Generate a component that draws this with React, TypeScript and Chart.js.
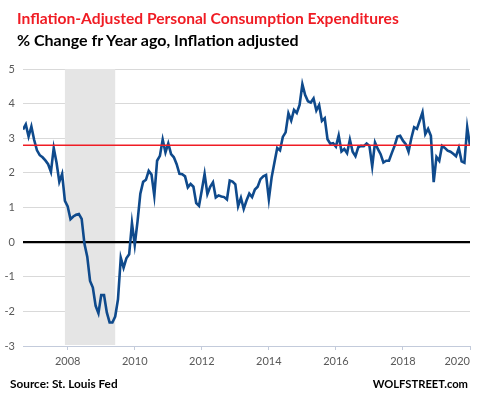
import React, { useEffect, useRef } from "react";
import { Chart, registerables } from "chart.js";

Chart.register(...registerables);

// ---- Data ----
const START_YEAR = 2006;
const START_MONTH = 9; // Sep 2006
const pceYoY: number[] = [
  // 2006 Sep-Dec
  3.25, 3.40, 3.05, 3.34,
  // 2007
  2.95, 2.65, 2.51, 2.45, 2.36, 2.25, 2.03, 2.72, 2.30, 1.74, 1.97, 1.19,
  // 2008
  1.03, 0.66, 0.74, 0.79, 0.81, 0.67, -0.05, -0.42, -1.12, -1.31, -1.84, -2.05,
  // 2009
  -1.53, -1.53, -2.03, -2.32, -2.32, -2.15, -1.65, -0.45, -0.74, -0.47, -0.35, 0.55,
  // 2010
  -0.08, 0.60, 1.40, 1.74, 1.80, 2.06, 1.95, 1.34, 2.35, 2.49, 2.96, 2.59,
  // 2011
  2.85, 2.54, 2.45, 2.25, 1.97, 1.96, 1.90, 1.58, 1.68, 1.60, 1.13, 1.05,
  // 2012
  1.50, 1.97, 1.39, 1.60, 1.73, 1.29, 1.35, 1.32, 1.30, 1.23, 1.78, 1.75,
  // 2013
  1.67, 1.04, 1.28, 0.96, 1.20, 1.40, 1.30, 1.52, 1.60, 1.82, 1.90, 1.94,
  // 2014
  1.24, 1.87, 2.30, 2.72, 2.65, 3.04, 3.17, 3.72, 3.51, 3.82, 3.73, 3.96,
  // 2015
  4.56, 4.25, 4.07, 4.03, 4.15, 3.80, 3.96, 3.50, 3.58, 2.97, 2.84, 2.86,
  // 2016
  2.76, 3.08, 2.62, 2.69, 2.57, 2.96, 2.61, 2.48, 2.74, 2.78, 2.77, 2.85,
  // 2017
  2.78, 2.19, 2.88, 2.69, 2.54, 2.30, 2.35, 2.35, 2.57, 2.78, 3.05, 3.07,
  // 2018
  2.93, 2.83, 2.61, 3.00, 3.32, 3.27, 3.51, 3.75, 3.12, 3.27, 3.07, 1.73,
  // 2019
  2.46, 2.35, 2.78, 2.72, 2.64, 2.61, 2.55, 2.48, 2.72, 2.33, 2.29, 3.32,
  // 2020 Jan
  2.78,
];
const yTicks = [-3, -2, -1, 0, 1, 2, 3, 4, 5];
const xTickYears = [2008, 2010, 2012, 2014, 2016, 2018, 2020];
const recessionStart = 2007 + 11 / 12; // Dec 2007
const recessionEnd = 2009 + 5 / 12; // Jun 2009
const referenceLevel = 2.8;
const zeroLevel = 0;

const monthDates = pceYoY.map((_, i) => START_YEAR + (START_MONTH - 1 + i) / 12);

const FONT = "Lato, 'Open Sans', sans-serif";

const overlayPlugin = {
  id: "overlays",
  beforeDatasetsDraw(chart: any) {
    const { ctx, chartArea, scales } = chart;
    const x = scales.x;
    const y = scales.y;
    ctx.save();
    const x0 = x.getPixelForValue(recessionStart);
    const x1 = x.getPixelForValue(recessionEnd);
    ctx.fillStyle = "#e5e5e5";
    ctx.fillRect(x0, chartArea.top, x1 - x0, chartArea.bottom - chartArea.top - 1);
    const yz = y.getPixelForValue(zeroLevel);
    ctx.strokeStyle = "#000000";
    ctx.lineWidth = 2.2;
    ctx.beginPath();
    ctx.moveTo(chartArea.left, yz);
    ctx.lineTo(chartArea.right, yz);
    ctx.stroke();
    ctx.restore();
  },
  afterDatasetsDraw(chart: any) {
    const { ctx, chartArea, scales } = chart;
    const yr = scales.y.getPixelForValue(referenceLevel);
    ctx.save();
    ctx.strokeStyle = "#f01c24";
    ctx.lineWidth = 1.5;
    ctx.beginPath();
    ctx.moveTo(chartArea.left, yr);
    ctx.lineTo(chartArea.right, yr);
    ctx.stroke();
    ctx.restore();
  },
};

export default function App() {
  const canvasRef = useRef<HTMLCanvasElement | null>(null);

  useEffect(() => {
    if (!canvasRef.current) return;
    const chart = new Chart(canvasRef.current, {
      type: "line",
      data: {
        datasets: [
          {
            label: "Real PCE % change YoY",
            data: pceYoY.map((v, i) => ({ x: monthDates[i], y: v })),
            borderColor: "#0f4a8c",
            borderWidth: 2.6,
            pointRadius: 0,
            tension: 0,
            fill: false,
          },
        ],
      },
      options: {
        responsive: false,
        animation: false,
        devicePixelRatio: 1,
        layout: { padding: { top: 69, right: 10, left: 0, bottom: 0 } },
        plugins: {
          legend: { display: false },
          tooltip: { enabled: false },
          title: { display: false },
        },
        scales: {
          x: {
            type: "linear",
            min: monthDates[0],
            max: 2020,
            afterBuildTicks: (s: any) => {
              s.ticks = [{ value: monthDates[0] }, ...xTickYears.map((v) => ({ value: v }))];
            },
            afterFit: (s: any) => {
              s.height = 52;
            },
            grid: {
              drawOnChartArea: false,
              drawTicks: true,
              tickLength: 4,
              color: (c: any) => (c.index === 0 ? "rgba(0,0,0,0)" : "#c3cbdb"),
            },
            border: { display: true, color: "#c3cbdb", width: 1 },
            ticks: {
              align: "inner",
              autoSkip: false,
              maxRotation: 0,
              padding: 5,
              color: "#595959",
              font: { family: FONT, size: 11 },
              callback: (v: any, i: number) => (i === 0 ? "" : String(Math.round(v))),
            },
          },
          y: {
            type: "linear",
            min: -3,
            max: 5,
            afterBuildTicks: (s: any) => {
              s.ticks = yTicks.map((v) => ({ value: v }));
            },
            afterFit: (s: any) => {
              s.width = 23;
            },
            grid: { color: "#d9d9d9", lineWidth: 1, drawTicks: false },
            border: { display: false },
            ticks: {
              padding: 8,
              color: "#595959",
              font: { family: FONT, size: 11 },
              callback: (v: any) => String(v),
            },
          },
        },
      },
      plugins: [overlayPlugin],
    });
    return () => chart.destroy();
  }, []);

  return (
    <div
      style={{
        position: "fixed",
        left: 0,
        top: 0,
        width: 480,
        height: 398,
        background: "#ffffff",
        fontFamily: FONT,
      }}
    >
      <canvas ref={canvasRef} width={480} height={398} style={{ position: "absolute", left: 0, top: 0 }} />
      <div
        style={{
          position: "absolute",
          left: 17,
          top: 8,
          fontSize: 15.6,
          lineHeight: "20px",
          fontWeight: 700,
          color: "#f01c24",
          whiteSpace: "nowrap",
        }}
      >
        Inflation-Adjusted Personal Consumption Expenditures
      </div>
      <div
        style={{
          position: "absolute",
          left: 17,
          top: 30,
          fontSize: 16,
          lineHeight: "20px",
          fontWeight: 700,
          color: "#000000",
          whiteSpace: "nowrap",
        }}
      >
        % Change fr Year ago, Inflation adjusted
      </div>
      <div
        style={{
          position: "absolute",
          left: 10,
          top: 377,
          fontSize: 11.8,
          lineHeight: "14px",
          fontWeight: 700,
          color: "#000000",
          whiteSpace: "nowrap",
        }}
      >
        Source: St. Louis Fed
      </div>
      <div
        style={{
          position: "absolute",
          right: 12,
          top: 377,
          fontSize: 11.2,
          lineHeight: "14px",
          fontWeight: 700,
          color: "#000000",
          whiteSpace: "nowrap",
        }}
      >
        WOLFSTREET.com
      </div>
    </div>
  );
}
